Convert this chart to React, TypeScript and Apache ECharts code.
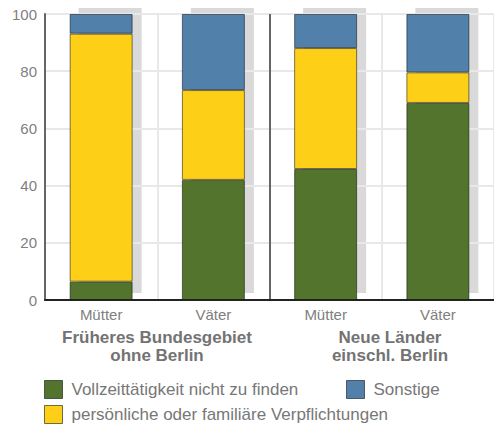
import React, { useEffect, useRef } from "react";
import * as echarts from "echarts";

const persons = ["Mütter", "Väter", "Mütter", "Väter"];
const groupLabels = ["Früheres Bundesgebiet\nohne Berlin", "Neue Länder\neinschl. Berlin"];
const seriesNames = [
  "Vollzeittätigkeit nicht zu finden",
  "persönliche oder familiäre Verpflichtungen",
  "Sonstige",
];
const vollzeit = [6.4, 42.0, 45.8, 68.9];
const persoenlich = [86.7, 31.4, 42.3, 10.7];
const sonstige = [6.9, 26.6, 11.9, 20.4];
const yTicks = [0, 20, 40, 60, 80, 100];

const COLORS = ["#52742c", "#fdd017", "#5181ab"];
const FONT = "Liberation Sans, Arial, sans-serif";

export default function App() {
  const ref = useRef<HTMLDivElement>(null);
  useEffect(() => {
    if (!ref.current) return;
    const chart = echarts.init(ref.current, undefined, { renderer: "svg" });
    const totals = vollzeit.map((v, i) => [i, v + persoenlich[i] + sonstige[i]]);
    const values = [vollzeit, persoenlich, sonstige];
    const barW = 63;
    chart.setOption({
      animation: false,
      textStyle: { fontFamily: FONT },
      grid: { left: 45, top: 14, width: 452, height: 286 },
      xAxis: {
        type: "category",
        data: persons,
        axisLine: { lineStyle: { color: "#222", width: 2 } },
        axisTick: { show: false },
        axisLabel: { color: "#808080", fontSize: 15, margin: 7, fontFamily: FONT },
        splitLine: {
          show: true,
          lineStyle: { color: ["#e8e8e8", "#e8e8e8", "#666666", "#e8e8e8", "#e8e8e8"], width: 2 },
        },
      },
      yAxis: {
        type: "value",
        min: yTicks[0],
        max: yTicks[yTicks.length - 1],
        interval: 20,
        axisLine: { show: true, lineStyle: { color: "#666", width: 2 } },
        axisTick: { show: false },
        axisLabel: { color: "#808080", fontSize: 15, margin: 8, fontFamily: FONT },
        splitLine: { show: true, lineStyle: { color: "#e8e8e8", width: 2 } },
      },
      legend: [
        { name: seriesNames[0], left: 44, top: 380 },
        { name: seriesNames[2], left: 346, top: 380 },
        { name: seriesNames[1], left: 44, top: 405 },
      ].map((l) => ({
        data: [l.name],
        left: l.left,
        top: l.top,
        padding: 0,
        itemWidth: 18,
        itemHeight: 18,
        icon: "rect",
        itemStyle: { borderColor: "rgba(0,0,0,0.55)", borderWidth: 1 },
        textStyle: { color: "#777", fontSize: 17, fontFamily: FONT, padding: [0, 0, 0, 4] },
        selectedMode: false,
      })),
      graphic: [
        {
          type: "text",
          x: 157,
          y: 328,
          style: {
            text: groupLabels[0],
            font: `bold 17px ${FONT}`,
            fill: "#737373",
            align: "center",
            verticalAlign: "top",
            lineHeight: 18,
          },
        },
        {
          type: "text",
          x: 390,
          y: 328,
          style: {
            text: groupLabels[1],
            font: `bold 17px ${FONT}`,
            fill: "#737373",
            align: "center",
            verticalAlign: "top",
            lineHeight: 18,
          },
        },
      ],
      series: [
        {
          type: "custom",
          z: -1,
          silent: true,
          data: totals,
          encode: { x: 0, y: 1 },
          renderItem: (params: any, api: any) => {
            const idx = api.value(0);
            const top = api.coord([idx, api.value(1)]);
            const bottom = api.coord([idx, 0]);
            return {
              type: "rect",
              shape: {
                x: top[0] - barW / 2 + 9,
                y: top[1] - 6,
                width: barW,
                height: bottom[1] - top[1] - 1,
              },
              style: { fill: "#d9d9d9" },
            };
          },
        },
        ...values.map((arr, k) => ({
          name: seriesNames[k],
          type: "bar",
          stack: "total",
          barWidth: barW,
          data: arr,
          itemStyle: { color: COLORS[k], borderColor: "rgba(0,0,0,0.5)", borderWidth: 1 },
        })),
      ],
    });
    return () => chart.dispose();
  }, []);
  return <div ref={ref} style={{ width: 494, height: 425, position: "absolute", left: 0, top: 0 }} />;
}
